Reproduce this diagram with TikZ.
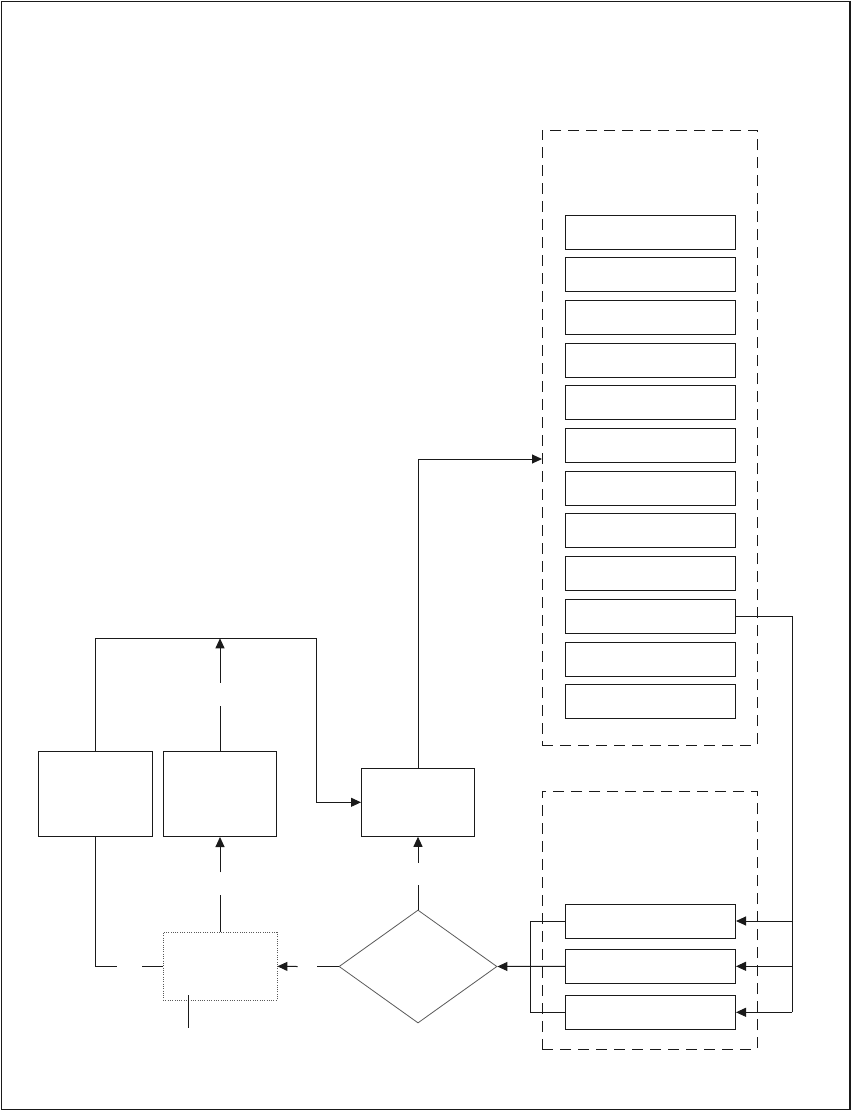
\documentclass[tikz,border=0pt]{standalone}
\usepackage{xcolor}
\definecolor{fcline}{HTML}{1A1A1A}
\definecolor{fcgray}{HTML}{5A5A5A}
\usepackage{tikz}
\usetikzlibrary{arrows.meta,positioning,shapes.geometric,calc}
\tikzset{
  fcbox/.style={draw=fcline,line width=1pt,rectangle,inner sep=0pt,minimum width=#1},
  fcbox/.default=114pt,
  fcdot/.style={draw=fcgray,line width=0.9pt,dash pattern=on 1pt off 1.3pt,inner sep=0pt,minimum width=114pt,minimum height=68pt},
  fcdec/.style={draw=fcgray,line width=0.8pt,diamond,inner sep=0pt,minimum width=158pt,minimum height=113pt},
  fcgroup/.style={draw=fcline,line width=0.9pt,dash pattern=on 11pt off 7pt,inner sep=0pt,minimum width=215pt},
  fcrow/.style={fcbox=170pt,minimum height=34pt},
  fcwire/.style={draw=fcline,line width=1pt},
  fcflow/.style={fcwire,-{Triangle[length=10pt,width=9pt]}},
}
\begin{document}
\begin{tikzpicture}[x=1pt,y=-1pt]
\useasboundingbox (0,0) rectangle (851,1111);
\draw[fcline,line width=1.5pt] (1.5,1.5) rectangle (849.8,1109.6);
 % groups
\node[fcgroup,minimum height=615pt] (gtop) at (649.5,437.5) {};
\node[fcgroup,minimum height=258pt] (gbot) at (649.5,920) {};
\foreach \i in {1,...,12}
  \node[fcrow] (s\i) at (650.5,{232+42.7*(\i-1)}) {};
\node[fcrow] (b1) at (650.5,921) {};
\node[fcrow] (b2) at (650.5,966.3) {};
\node[fcrow] (b3) at (650.5,1012.3) {};
 % left part
\node[fcbox,minimum height=85pt] (pa) at (95.5,794) {};
\node[fcbox=113pt,minimum height=85pt] (pb) at (220,794) {};
\node[fcbox=113pt,minimum height=68pt] (pc) at (418,802.3) {};
\node[fcdot] (pd) at (220,966.3) {};
\node[fcdec] (pe) at (418,966.5) {};
 % gaps and free ends
\coordinate (intop) at (542,459);
\coordinate (bus) at (792.3,1012.3);
\coordinate (ttop) at (220,638.3);
\coordinate (tcor) at (316.3,638.3);
\coordinate (ge1) at (316.7,966.5);
\coordinate (ge2) at (297.7,966.5);
\coordinate (gd1) at (142.3,966.3);
\coordinate (gd2) at (116.7,966.3);
\coordinate (gu1) at (220,895);
\coordinate (gu2) at (220,872.3);
\coordinate (gb1) at (220,706);
\coordinate (gb2) at (220,682.7);
\coordinate (gc1) at (418,885);
\coordinate (gc2) at (418,862.7);
\coordinate (ina) at (188.7,995);
\coordinate (inb) at (188.7,1028.3);
 % connectors
\draw[fcflow] (pc.north) |- (intop);
\draw[fcwire] (s10.east) -| (bus);
\foreach \b in {b1,b2,b3}
  \draw[fcflow] (bus |- \b.east) -- (\b.east);
\draw[fcwire] (b1.west) -- ++(-34.3,0) |- (b3.west);
\draw[fcflow] (b2.west) -- (pe.east);
\draw[fcwire] (pe.west) -- (ge1);
\draw[fcflow] (ge2) -- (pd.east);
\draw[fcwire] (pd.west) -- (gd1);
\draw[fcwire] (gd2) -| (pa.south);
\draw[fcwire] (pd.north) -- (gu1);
\draw[fcflow] (gu2) -- (pb.south);
\draw[fcwire] (pb.north) -- (gb1);
\draw[fcflow] (gb2) -- (ttop);
\draw[fcflow] (pa.north) |- (tcor) |- (pc.west);
\draw[fcwire] (pe.north) -- (gc1);
\draw[fcflow] (gc2) -- (pc.south);
\draw[fcwire] (ina) -- (inb);
\end{tikzpicture}
\end{document}
